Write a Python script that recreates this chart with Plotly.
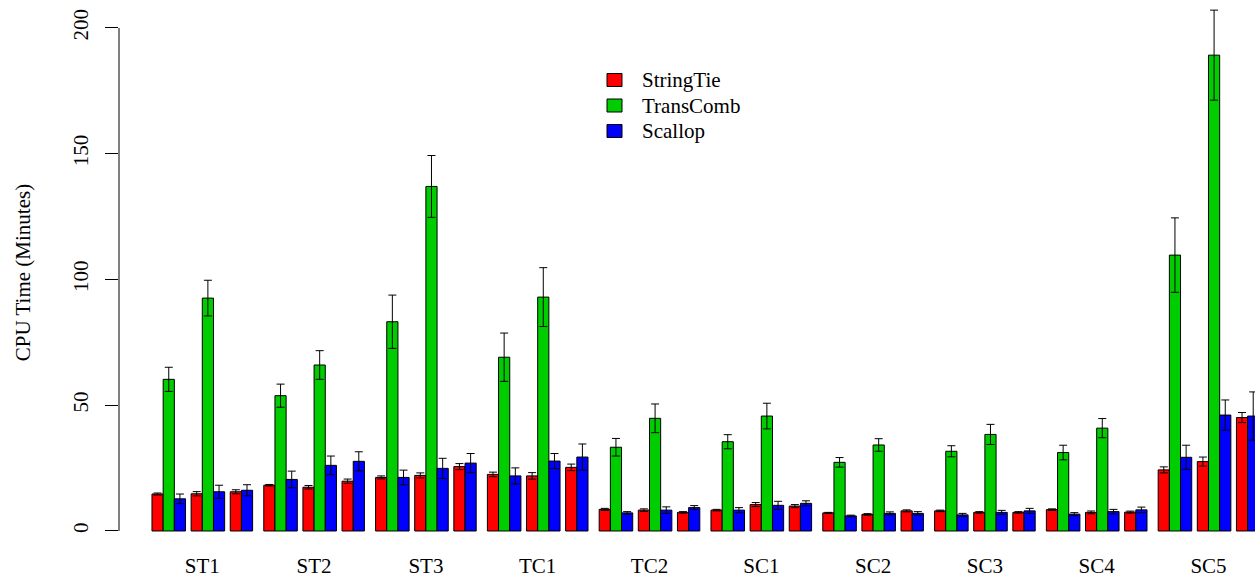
import plotly.graph_objects as go

# Samples on the x axis
categories = ["ST1", "ST2", "ST3", "TC1", "TC2", "SC1", "SC2", "SC3", "SC4", "SC5"]

# Mean CPU time (minutes) and standard deviation, three sub-columns (a, b, c) per sample
stringtie_a = [14.7, 18.2, 21.3, 22.5, 8.6, 8.3, 7.2, 8.0, 8.5, 24.3]
stringtie_a_sd = [0.4, 0.3, 0.6, 0.9, 0.4, 0.3, 0.2, 0.3, 0.3, 1.2]
stringtie_b = [14.8, 17.4, 22.1, 21.9, 8.3, 10.5, 6.6, 7.4, 7.4, 27.6]
stringtie_b_sd = [0.85, 0.7, 1.0, 1.3, 0.5, 0.8, 0.3, 0.3, 0.55, 1.8]
stringtie_c = [15.6, 19.8, 25.6, 25.3, 7.4, 9.9, 8.0, 7.4, 7.5, 45.1]
stringtie_c_sd = [0.8, 0.85, 1.2, 1.3, 0.3, 0.6, 0.4, 0.3, 0.4, 2.0]

transcomb_a = [60.3, 53.8, 83.2, 69.1, 33.3, 35.5, 27.3, 31.7, 31.2, 109.7]
transcomb_a_sd = [4.8, 4.6, 10.6, 9.6, 3.5, 2.8, 1.9, 2.2, 2.9, 14.8]
transcomb_b = [92.6, 66.0, 137.0, 93.0, 44.8, 45.7, 34.2, 38.4, 40.9, 189.2]
transcomb_b_sd = [7.1, 5.7, 12.3, 11.7, 5.7, 5.1, 2.5, 4.0, 3.8, 17.9]

scallop_a = [12.8, 20.5, 21.3, 21.9, 7.2, 8.3, 6.0, 6.4, 6.7, 29.3]
scallop_a_sd = [1.9, 3.3, 2.9, 3.2, 0.5, 1.0, 0.3, 0.6, 0.6, 4.8]
scallop_b = [15.6, 26.1, 24.9, 27.8, 8.3, 10.2, 7.0, 7.4, 7.7, 46.1]
scallop_b_sd = [2.6, 3.7, 4.0, 3.0, 1.3, 1.6, 0.6, 0.8, 0.9, 6.0]
scallop_c = [16.2, 27.7, 27.0, 29.4, 9.3, 11.0, 7.0, 8.0, 8.4, 45.7]
scallop_c_sd = [2.2, 3.8, 3.8, 5.2, 0.8, 1.0, 0.7, 1.0, 1.1, 9.6]

methods = ["StringTie", "TransComb", "Scallop"]

FONT = "Liberation Serif"
FS = 21
RED, GREEN, BLUE = "#FF0000", "#00CD00", "#0000FF"
colors = [RED, GREEN, BLUE]

# Bars are one unit wide; each sample occupies 10 units:
# sub-column a (3 bars), gap 0.5, b (3 bars), gap 0.5, c (2 bars), gap 1
PERIOD = 10
n = len(categories)


def positions(offset):
    return [i * PERIOD + offset for i in range(n)]


series = [
    # name, values, sd, color, bar-centre offset
    ("StringTie", stringtie_a, stringtie_a_sd, RED, 0.5),
    ("TransComb", transcomb_a, transcomb_a_sd, GREEN, 1.5),
    ("Scallop", scallop_a, scallop_a_sd, BLUE, 2.5),
    ("StringTie", stringtie_b, stringtie_b_sd, RED, 4.0),
    ("TransComb", transcomb_b, transcomb_b_sd, GREEN, 5.0),
    ("Scallop", scallop_b, scallop_b_sd, BLUE, 6.0),
    ("StringTie", stringtie_c, stringtie_c_sd, RED, 7.5),
    ("Scallop", scallop_c, scallop_c_sd, BLUE, 8.5),
]

fig = go.Figure()
for name, vals, sd, color, off in series:
    fig.add_trace(go.Bar(
        x=positions(off),
        y=vals,
        width=1,
        name=name,
        showlegend=False,
        marker=dict(color=color, line=dict(color="black", width=1)),
        error_y=dict(type="data", array=sd, visible=True,
                     color="black", thickness=1, width=4),
    ))

centres = [i * PERIOD + 4.5 for i in range(n)]

# Legend box: filled keys with black outline and serif labels (pixel layout)
W, H = 1255, 578
ML, MR, MT, MB = 119, 0, 0, 33
PW, PH = W - ML - MR, H - MT - MB


def px_x(px):
    return (px - ML) / PW


def px_y(py):
    return 1 - (py - MT) / PH


shapes = [dict(type="line", xref="paper", yref="y", x0=0, x1=0, y0=0, y1=200,
               line=dict(color="black", width=1))]
annotations = []
for k, (m, c) in enumerate(zip(methods, colors)):
    cy = 80 + 25.5 * k
    shapes.append(dict(type="rect", xref="paper", yref="paper",
                       x0=px_x(607), x1=px_x(622), y0=px_y(cy - 6.5), y1=px_y(cy + 6.5),
                       fillcolor=c, line=dict(color="black", width=1)))
    annotations.append(dict(xref="paper", yref="paper", x=px_x(640), y=px_y(cy),
                            xanchor="left", yanchor="middle", showarrow=False,
                            text=m, font=dict(family=FONT, size=FS, color="black")))

fig.update_layout(
    width=W,
    height=H,
    margin=dict(l=ML, r=MR, t=MT, b=MB),
    plot_bgcolor="white",
    paper_bgcolor="white",
    barmode="overlay",
    font=dict(family=FONT, size=FS, color="black"),
    showlegend=False,
    xaxis=dict(
        range=[-2.95, 98.66],
        tickvals=centres,
        ticktext=categories,
        showline=False, showgrid=False, zeroline=False,
        ticks="",
        ticklabelstandoff=6,
        automargin=False,
        tickfont=dict(family=FONT, size=FS),
    ),
    yaxis=dict(
        range=[-5.57, 211.13],
        tickvals=[0, 50, 100, 150, 200],
        ticktext=["0", "50", "100", "150", "200"],
        tickangle=-90,
        ticks="outside", ticklen=13, tickwidth=1, tickcolor="black",
        showline=False, showgrid=False, zeroline=False,
        ticklabelstandoff=9,
        automargin=False,
        tickfont=dict(family=FONT, size=FS),
        title=dict(text="CPU Time (Minutes)", font=dict(family=FONT, size=FS), standoff=32),
    ),
    shapes=shapes,
    annotations=annotations,
)

fig.write_html("out.html")
